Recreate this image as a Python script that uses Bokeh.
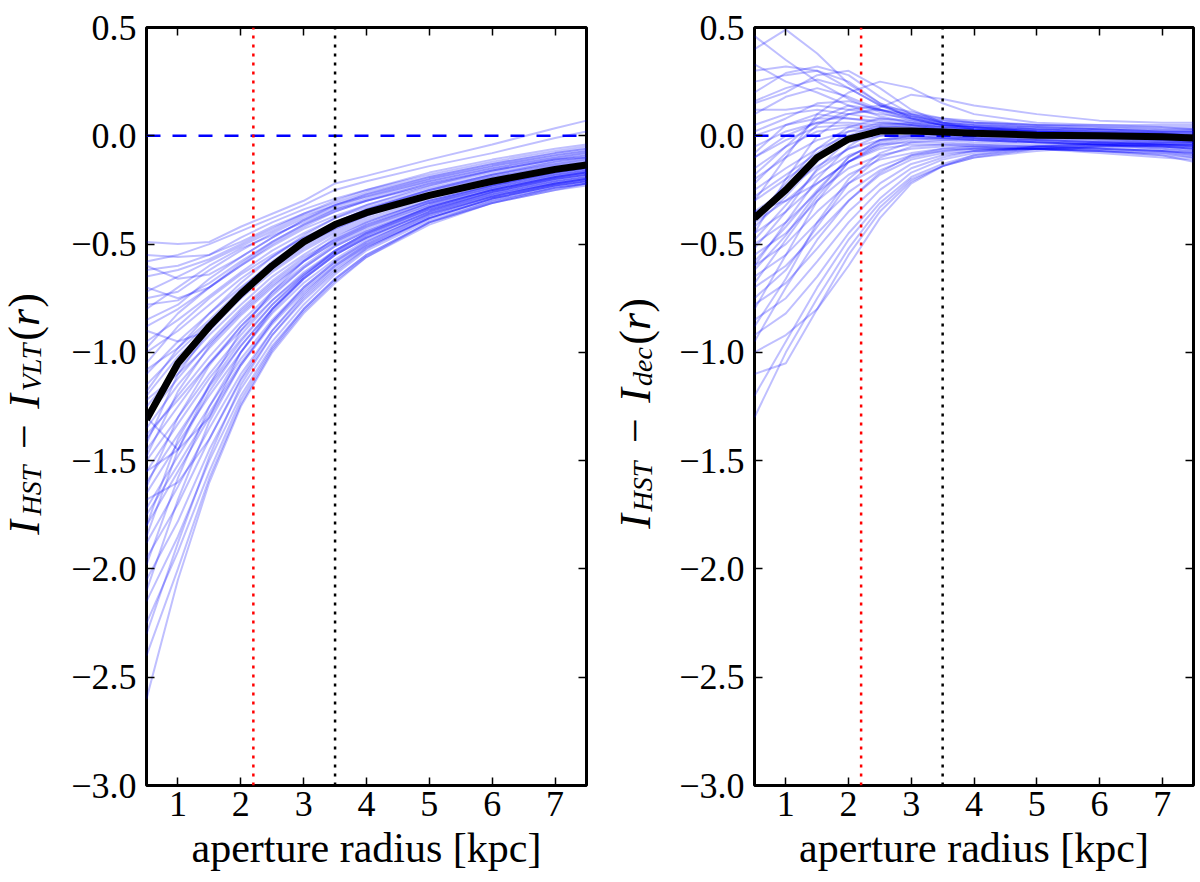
from bokeh.plotting import figure
from bokeh.layouts import row
from bokeh.models import FixedTicker, LinearAxis
from bokeh.core.properties import value
from bokeh.embed import file_html
from bokeh.resources import INLINE

# aperture radii the profiles are sampled at [kpc]
radius = [0.5, 1.0, 1.5, 2.0, 2.5, 3.0, 3.5, 4.0, 5.0, 6.0, 7.0, 7.5]

# I_HST - I_VLT(r), one row per galaxy
vlt_lines = [
    [-0.49, -0.50, -0.49, -0.42, -0.36, -0.30, -0.22, -0.185, -0.11, -0.04, 0.035, 0.07],
    [-0.58, -0.55, -0.50, -0.44, -0.38, -0.32, -0.25, -0.21, -0.14, -0.08, -0.01, 0.02],
    [-0.55, -0.56, -0.55, -0.47, -0.40, -0.34, -0.29, -0.25, -0.18, -0.12, -0.07, -0.05],
    [-0.62, -0.60, -0.55, -0.49, -0.42, -0.36, -0.31, -0.26, -0.19, -0.13, -0.08, -0.06],
    [-0.72, -0.65, -0.58, -0.51, -0.44, -0.37, -0.32, -0.27, -0.20, -0.14, -0.09, -0.07],
    [-0.75, -0.72, -0.62, -0.53, -0.45, -0.38, -0.32, -0.28, -0.21, -0.15, -0.10, -0.08],
    [-0.80, -0.70, -0.60, -0.52, -0.46, -0.40, -0.34, -0.30, -0.22, -0.16, -0.11, -0.09],
    [-0.78, -0.76, -0.68, -0.58, -0.49, -0.41, -0.35, -0.30, -0.23, -0.17, -0.12, -0.10],
    [-0.88, -0.80, -0.70, -0.60, -0.51, -0.43, -0.37, -0.32, -0.24, -0.18, -0.13, -0.11],
    [-0.95, -0.85, -0.74, -0.63, -0.53, -0.45, -0.38, -0.33, -0.25, -0.18, -0.13, -0.11],
    [-1.00, -0.90, -0.78, -0.66, -0.56, -0.47, -0.40, -0.34, -0.26, -0.19, -0.14, -0.12],
    [-1.05, -0.88, -0.75, -0.64, -0.55, -0.47, -0.41, -0.36, -0.28, -0.22, -0.17, -0.15],
    [-1.10, -0.95, -0.82, -0.70, -0.59, -0.50, -0.43, -0.37, -0.28, -0.21, -0.16, -0.14],
    [-1.15, -1.00, -0.86, -0.73, -0.62, -0.52, -0.44, -0.38, -0.29, -0.22, -0.16, -0.14],
    [-1.20, -1.02, -0.88, -0.75, -0.63, -0.53, -0.45, -0.39, -0.30, -0.23, -0.17, -0.15],
    [-1.25, -1.08, -0.92, -0.78, -0.65, -0.55, -0.46, -0.40, -0.30, -0.23, -0.18, -0.16],
    [-1.30, -1.12, -0.95, -0.80, -0.67, -0.56, -0.48, -0.41, -0.31, -0.24, -0.18, -0.16],
    [-1.35, -1.15, -0.98, -0.83, -0.70, -0.58, -0.49, -0.42, -0.32, -0.24, -0.19, -0.17],
    [-1.40, -1.20, -1.02, -0.86, -0.72, -0.60, -0.50, -0.43, -0.32, -0.25, -0.19, -0.17],
    [-1.45, -1.25, -1.05, -0.88, -0.74, -0.61, -0.51, -0.44, -0.33, -0.25, -0.20, -0.18],
    [-1.50, -1.30, -1.10, -0.92, -0.76, -0.63, -0.53, -0.45, -0.34, -0.26, -0.20, -0.18],
    [-1.55, -1.33, -1.12, -0.94, -0.78, -0.65, -0.54, -0.46, -0.34, -0.26, -0.21, -0.19],
    [-1.60, -1.38, -1.16, -0.97, -0.80, -0.66, -0.55, -0.47, -0.35, -0.27, -0.21, -0.19],
    [-1.65, -1.42, -1.20, -1.00, -0.82, -0.68, -0.57, -0.48, -0.36, -0.27, -0.22, -0.20],
    [-1.72, -1.48, -1.25, -1.03, -0.85, -0.70, -0.58, -0.49, -0.36, -0.28, -0.22, -0.20],
    [-1.80, -1.55, -1.30, -1.06, -0.87, -0.72, -0.60, -0.50, -0.37, -0.28, -0.22, -0.20],
    [-1.88, -1.62, -1.35, -1.10, -0.90, -0.74, -0.61, -0.51, -0.38, -0.29, -0.23, -0.21],
    [-1.95, -1.70, -1.40, -1.13, -0.92, -0.76, -0.63, -0.52, -0.38, -0.29, -0.23, -0.21],
    [-2.05, -1.78, -1.45, -1.17, -0.95, -0.78, -0.64, -0.53, -0.39, -0.30, -0.24, -0.22],
    [-2.15, -1.85, -1.50, -1.20, -0.97, -0.80, -0.66, -0.55, -0.40, -0.30, -0.24, -0.22],
    [-2.25, -1.92, -1.55, -1.22, -0.98, -0.80, -0.66, -0.55, -0.40, -0.31, -0.24, -0.22],
    [-2.40, -2.00, -1.58, -1.24, -0.99, -0.81, -0.67, -0.56, -0.40, -0.31, -0.25, -0.22],
    [-2.60, -2.05, -1.60, -1.25, -1.00, -0.82, -0.68, -0.56, -0.41, -0.31, -0.25, -0.23],
    [-0.70, -0.75, -0.70, -0.60, -0.50, -0.42, -0.35, -0.30, -0.22, -0.16, -0.11, -0.10],
    [-1.55, -1.45, -1.30, -1.00, -0.80, -0.65, -0.53, -0.45, -0.33, -0.25, -0.19, -0.17],
    [-1.30, -1.45, -1.15, -0.90, -0.72, -0.58, -0.47, -0.40, -0.30, -0.23, -0.17, -0.15],
    [-0.90, -0.95, -0.90, -0.75, -0.60, -0.48, -0.40, -0.34, -0.25, -0.19, -0.14, -0.12],
    [-1.80, -1.40, -1.15, -0.95, -0.78, -0.64, -0.53, -0.45, -0.33, -0.25, -0.19, -0.17],
    [-0.65, -0.62, -0.57, -0.50, -0.43, -0.36, -0.30, -0.25, -0.17, -0.11, -0.06, -0.04],
    [-0.85, -0.78, -0.66, -0.56, -0.47, -0.39, -0.33, -0.28, -0.20, -0.14, -0.09, -0.07],
    [-1.08, -0.98, -0.85, -0.71, -0.58, -0.48, -0.40, -0.34, -0.25, -0.18, -0.12, -0.10],
    [-1.22, -1.10, -0.96, -0.82, -0.69, -0.58, -0.49, -0.42, -0.31, -0.23, -0.17, -0.15],
    [-1.38, -1.22, -1.05, -0.90, -0.76, -0.64, -0.54, -0.46, -0.34, -0.26, -0.20, -0.18],
    [-1.48, -1.18, -0.97, -0.81, -0.68, -0.57, -0.48, -0.41, -0.31, -0.24, -0.18, -0.16],
    [-1.62, -1.30, -1.06, -0.88, -0.73, -0.61, -0.51, -0.44, -0.33, -0.25, -0.19, -0.17],
    [-1.75, -1.52, -1.28, -1.05, -0.86, -0.71, -0.59, -0.50, -0.37, -0.28, -0.22, -0.20],
    [-1.98, -1.58, -1.25, -1.00, -0.81, -0.66, -0.55, -0.47, -0.35, -0.27, -0.21, -0.19],
    [-2.10, -1.68, -1.32, -1.06, -0.86, -0.70, -0.58, -0.49, -0.36, -0.28, -0.22, -0.20],
    [-2.30, -1.88, -1.48, -1.15, -0.92, -0.75, -0.62, -0.52, -0.38, -0.29, -0.23, -0.21],
    [-1.18, -0.98, -0.82, -0.68, -0.56, -0.46, -0.38, -0.32, -0.23, -0.16, -0.11, -0.09],
    [-1.42, -1.10, -0.90, -0.74, -0.61, -0.51, -0.43, -0.37, -0.27, -0.20, -0.15, -0.13],
    [-0.98, -0.82, -0.70, -0.59, -0.49, -0.41, -0.34, -0.29, -0.21, -0.15, -0.10, -0.08],
    [-1.85, -1.45, -1.18, -0.97, -0.80, -0.66, -0.55, -0.47, -0.35, -0.26, -0.20, -0.18],
    [-1.68, -1.60, -1.40, -1.12, -0.90, -0.73, -0.60, -0.51, -0.38, -0.29, -0.23, -0.21],
    [-0.60, -0.66, -0.64, -0.56, -0.47, -0.39, -0.32, -0.27, -0.19, -0.13, -0.08, -0.06],
]
vlt_median = [-1.31, -1.05, -0.88, -0.73, -0.60, -0.49, -0.41, -0.355, -0.275, -0.21, -0.155, -0.135]

# I_HST - I_dec(r)
dec_lines = [
    [0.46, 0.35, 0.25, 0.17, 0.11, 0.07, 0.05, 0.04, 0.03, 0.03, 0.02, 0.02],
    [0.40, 0.49, 0.38, 0.24, 0.15, 0.10, 0.07, 0.06, 0.05, 0.04, 0.04, 0.03],
    [0.33, 0.25, 0.20, 0.14, 0.09, 0.06, 0.04, 0.03, 0.02, 0.01, 0.01, 0.00],
    [0.25, 0.28, 0.30, 0.25, 0.15, 0.08, 0.05, 0.04, 0.03, 0.02, 0.01, 0.01],
    [0.20, 0.29, 0.32, 0.28, 0.18, 0.10, 0.06, 0.05, 0.04, 0.03, 0.03, 0.03],
    [0.16, 0.22, 0.26, 0.22, 0.14, 0.09, 0.07, 0.06, 0.05, 0.05, 0.05, 0.05],
    [-0.10, 0.00, 0.06, 0.10, 0.13, 0.19, 0.17, 0.14, 0.10, 0.07, 0.06, 0.06],
    [0.12, 0.12, 0.14, 0.12, 0.10, 0.08, 0.06, 0.05, 0.03, 0.02, 0.02, 0.02],
    [0.05, 0.10, 0.12, 0.10, 0.08, 0.06, 0.04, 0.03, 0.02, 0.01, 0.00, 0.00],
    [0.00, 0.05, 0.08, 0.08, 0.07, 0.05, 0.03, 0.02, 0.01, 0.00, -0.01, -0.01],
    [-0.05, 0.02, 0.06, 0.06, 0.05, 0.04, 0.03, 0.02, 0.00, -0.01, -0.02, -0.02],
    [-0.10, -0.02, 0.04, 0.05, 0.04, 0.02, 0.01, 0.00, -0.01, -0.02, -0.03, -0.03],
    [-0.15, -0.05, 0.02, 0.04, 0.03, 0.02, 0.00, -0.01, -0.02, -0.03, -0.04, -0.04],
    [-0.20, -0.10, -0.02, 0.02, 0.03, 0.02, 0.01, 0.00, -0.02, -0.03, -0.04, -0.05],
    [-0.25, -0.15, -0.06, 0.00, 0.02, 0.01, 0.00, -0.01, -0.03, -0.04, -0.05, -0.06],
    [-0.30, -0.20, -0.10, -0.03, 0.00, 0.00, -0.01, -0.02, -0.03, -0.04, -0.05, -0.06],
    [-0.35, -0.25, -0.14, -0.06, -0.02, -0.01, -0.02, -0.03, -0.04, -0.05, -0.06, -0.07],
    [-0.40, -0.30, -0.18, -0.09, -0.04, -0.03, -0.03, -0.04, -0.05, -0.06, -0.07, -0.08],
    [-0.45, -0.35, -0.22, -0.12, -0.06, -0.04, -0.04, -0.05, -0.06, -0.07, -0.08, -0.09],
    [-0.50, -0.40, -0.26, -0.15, -0.09, -0.06, -0.05, -0.05, -0.06, -0.07, -0.08, -0.10],
    [-0.55, -0.45, -0.30, -0.18, -0.11, -0.08, -0.06, -0.06, -0.06, -0.07, -0.09, -0.10],
    [-0.60, -0.50, -0.35, -0.22, -0.14, -0.09, -0.07, -0.06, -0.06, -0.08, -0.10, -0.11],
    [-0.65, -0.55, -0.40, -0.26, -0.16, -0.10, -0.07, -0.06, -0.06, -0.07, -0.09, -0.12],
    [-0.70, -0.60, -0.45, -0.30, -0.18, -0.11, -0.08, -0.07, -0.06, -0.06, -0.07, -0.08],
    [-0.78, -0.68, -0.52, -0.35, -0.22, -0.13, -0.09, -0.07, -0.06, -0.05, -0.05, -0.05],
    [-0.85, -0.75, -0.58, -0.40, -0.25, -0.15, -0.10, -0.07, -0.05, -0.04, -0.04, -0.04],
    [-0.92, -0.82, -0.65, -0.45, -0.29, -0.17, -0.11, -0.08, -0.05, -0.04, -0.03, -0.03],
    [-1.10, -1.05, -0.80, -0.55, -0.35, -0.21, -0.14, -0.10, -0.06, -0.05, -0.04, -0.04],
    [-1.20, -0.95, -0.70, -0.48, -0.31, -0.19, -0.13, -0.09, -0.06, -0.04, -0.03, -0.03],
    [-1.30, -1.00, -0.75, -0.52, -0.33, -0.20, -0.14, -0.10, -0.07, -0.05, -0.04, -0.04],
    [-1.00, -0.92, -0.80, -0.60, -0.38, -0.22, -0.14, -0.09, -0.05, -0.03, -0.02, -0.02],
    [-0.30, -0.10, 0.10, 0.20, 0.25, 0.22, 0.15, 0.10, 0.06, 0.05, 0.04, 0.04],
    [0.15, 0.20, 0.28, 0.30, 0.22, 0.12, 0.06, 0.03, 0.01, 0.00, -0.01, -0.01],
    [-0.45, -0.20, 0.00, 0.10, 0.12, 0.10, 0.08, 0.07, 0.05, 0.04, 0.03, 0.03],
    [-0.60, -0.40, -0.20, -0.05, 0.04, 0.05, 0.04, 0.03, 0.02, 0.01, 0.00, 0.00],
    [-0.80, -0.55, -0.30, -0.12, -0.03, 0.00, 0.00, -0.01, -0.02, -0.03, -0.04, -0.05],
    [0.30, 0.32, 0.30, 0.22, 0.14, 0.09, 0.06, 0.05, 0.04, 0.03, 0.02, 0.02],
    [0.10, 0.18, 0.22, 0.18, 0.12, 0.08, 0.05, 0.04, 0.02, 0.01, 0.01, 0.00],
    [-0.22, -0.08, 0.05, 0.12, 0.14, 0.11, 0.08, 0.06, 0.04, 0.03, 0.02, 0.02],
    [-0.38, -0.22, -0.06, 0.04, 0.08, 0.07, 0.05, 0.04, 0.02, 0.01, 0.00, -0.01],
    [-0.52, -0.35, -0.15, -0.02, 0.04, 0.04, 0.03, 0.01, 0.00, -0.01, -0.02, -0.03],
    [-0.68, -0.48, -0.28, -0.12, -0.04, -0.01, -0.01, -0.02, -0.03, -0.04, -0.05, -0.06],
    [-0.75, -0.62, -0.42, -0.22, -0.10, -0.05, -0.04, -0.04, -0.05, -0.06, -0.07, -0.08],
    [-0.95, -0.70, -0.48, -0.30, -0.17, -0.09, -0.06, -0.05, -0.05, -0.06, -0.07, -0.09],
    [-0.58, -0.42, -0.25, -0.10, -0.02, 0.01, 0.02, 0.02, 0.01, 0.00, -0.01, -0.02],
    [-0.42, -0.28, -0.12, 0.00, 0.05, 0.06, 0.05, 0.04, 0.03, 0.02, 0.01, 0.01],
    [-0.18, -0.05, 0.08, 0.14, 0.12, 0.09, 0.06, 0.04, 0.02, 0.01, 0.00, 0.00],
    [-0.28, -0.18, -0.08, 0.02, 0.06, 0.05, 0.03, 0.02, 0.00, -0.01, -0.02, -0.03],
    [-0.48, -0.32, -0.16, -0.06, 0.00, 0.02, 0.02, 0.01, -0.01, -0.02, -0.03, -0.04],
    [-0.62, -0.46, -0.26, -0.10, -0.02, 0.00, -0.01, -0.02, -0.03, -0.04, -0.06, -0.07],
    [0.02, 0.08, 0.15, 0.16, 0.12, 0.08, 0.05, 0.03, 0.01, 0.00, -0.01, -0.02],
    [-0.08, 0.05, 0.10, 0.08, 0.06, 0.05, 0.04, 0.03, 0.02, 0.02, 0.01, 0.01],
    [-0.88, -0.66, -0.40, -0.20, -0.08, -0.03, -0.02, -0.02, -0.03, -0.04, -0.05, -0.06],
    [-0.35, -0.30, -0.22, -0.12, -0.05, -0.02, -0.01, -0.01, -0.02, -0.03, -0.04, -0.05],
]
dec_median = [-0.38, -0.25, -0.10, -0.015, 0.022, 0.022, 0.017, 0.012, 0.003, 0.0, -0.005, -0.01]

x_lim = [0.5, 7.5]
y_lim = [-3.0, 0.5]
x_ticks = [1, 2, 3, 4, 5, 6, 7]
y_ticks = [-3.0, -2.5, -2.0, -1.5, -1.0, -0.5, 0.0, 0.5]
y_tick_labels = ['\u22123.0', '\u22122.5', '\u22122.0', '\u22121.5', '\u22121.0', '\u22120.5', '0.0', '0.5']
r_inner = 2.2   # red dotted
r_outer = 3.5   # black dotted
zero = 0.0

SERIF = 'Liberation Serif'
HEIGHT = 877
TOP, BOTTOM = 27, 92
FRAME_H = HEIGHT - TOP - BOTTOM
LABEL_W = 60
MAIN, SUB = 44, 28

# y label pieces: (text, centre in pixels from the top of the page, kind, italic)
vlt_label = [('I', 527, 'main', True), ('HST', 490, 'sub', True), ('\u2212', 436, 'main', False),
             ('I', 401, 'main', True), ('VLT', 367, 'sub', True), ('(', 333, 'main', False),
             ('r', 317, 'main', True), (')', 300, 'main', False)]
dec_label = [('I', 521, 'main', True), ('HST', 486, 'sub', True), ('\u2212', 430, 'main', False),
             ('I', 395, 'main', True), ('dec', 366, 'sub', True), ('(', 337, 'main', False),
             ('r', 321, 'main', True), (')', 305, 'main', False)]


def style_axis(ax, ticker):
    ax.ticker = ticker
    ax.major_tick_in = 8
    ax.major_tick_out = 0
    ax.major_tick_line_width = 1.5
    ax.major_tick_line_color = 'black'
    ax.minor_tick_line_color = None
    ax.axis_line_color = None


def label_strip(parts, baseline):
    # narrow strip holding the rotated y label; its frame lines up with the
    # panel frame and its data units are pixels
    s = figure(width=LABEL_W, height=HEIGHT, x_range=(0, LABEL_W), y_range=(0, FRAME_H),
               output_backend="svg", toolbar_location=None,
               x_axis_location=None, y_axis_location=None,
               min_border_left=0, min_border_right=0,
               min_border_top=TOP, min_border_bottom=BOTTOM)
    s.grid.visible = False
    s.outline_line_color = None
    for txt, pos, kind, italic in parts:
        size = SUB if kind == 'sub' else MAIN
        base = baseline + (2 if kind == 'sub' else 0)
        s.text(x=[base - 0.34 * size], y=[TOP + FRAME_H - pos], text=[txt],
               angle=1.5707963, text_align='center', text_baseline='middle',
               text_font=value(SERIF), text_font_size='%dpx' % size,
               text_font_style='italic' if italic else 'normal',
               text_color='black')
    return s


def make_panel(lines, median, width, left, right):
    p = figure(width=width, height=HEIGHT, x_range=tuple(x_lim), y_range=tuple(y_lim),
               output_backend="svg", toolbar_location=None,
               min_border_left=left, min_border_right=right,
               min_border_top=TOP, min_border_bottom=BOTTOM)
    p.grid.visible = False
    p.outline_line_color = 'black'
    p.outline_line_width = 3
    p.outline_line_alpha = 1

    for ys in lines:
        p.line(radius, ys, color='blue', alpha=0.25, line_width=2)
    p.line(x_lim, [zero, zero], color='blue', line_width=2.5, line_dash='14 12')
    p.line([r_inner, r_inner], y_lim, color='red', line_width=2.5, line_dash='3 6')
    p.line([r_outer, r_outer], y_lim, color='black', line_width=2.5, line_dash='3 6')
    p.line(radius, median, color='black', line_width=7)

    style_axis(p.xaxis[0], FixedTicker(ticks=x_ticks))
    style_axis(p.yaxis[0], FixedTicker(ticks=y_ticks))
    p.yaxis.major_label_overrides = dict(zip(y_ticks, y_tick_labels))
    for ax in (p.xaxis[0], p.yaxis[0]):
        ax.major_label_text_font = SERIF
        ax.major_label_text_font_size = '36px'
        ax.major_label_text_color = 'black'
    p.yaxis.major_label_standoff = 10
    p.xaxis.major_label_standoff = 6
    p.xaxis.axis_label = 'aperture radius [kpc]'
    p.xaxis.axis_label_text_font = SERIF
    p.xaxis.axis_label_text_font_size = '42px'
    p.xaxis.axis_label_text_font_style = 'normal'
    p.xaxis.axis_label_text_color = 'black'
    p.xaxis.axis_label_standoff = 6

    # ticks on top and right side as well (labels not drawn)
    for side, tk in (('above', x_ticks), ('right', y_ticks)):
        ax = LinearAxis(major_label_text_font_size='1px', major_label_text_color=None,
                        major_label_standoff=0)
        style_axis(ax, FixedTicker(ticks=tk))
        p.add_layout(ax, side)
    return p


s1 = label_strip(vlt_label, 39)
p1 = make_panel(vlt_lines, vlt_median, 608 - LABEL_W, 146 - LABEL_W, 22)
s2 = label_strip(dec_label, 42)
p2 = make_panel(dec_lines, dec_median, 592 - LABEL_W, 146 - LABEL_W, 7)

p = row(s1, p1, s2, p2)
open("out.html", "w").write(file_html(p, INLINE))
